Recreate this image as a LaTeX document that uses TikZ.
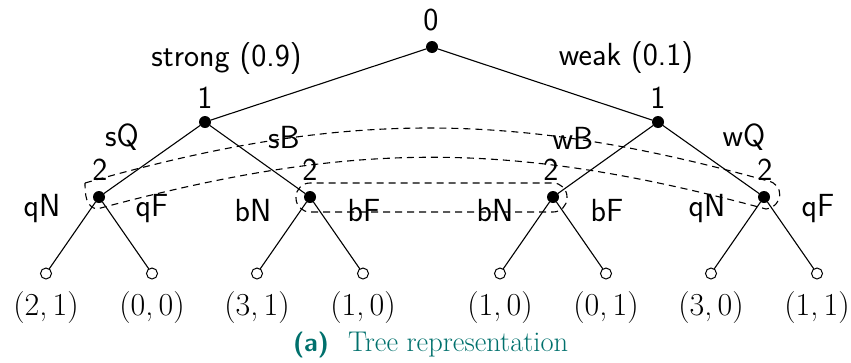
\documentclass[tikz,border=0pt]{standalone}
\usepackage{fontspec}
\definecolor{capteal}{RGB}{0,112,108}
\newcommand{\pay}[2]{(#1,\kern0.1667em#2)}
\begin{document}
\begin{tikzpicture}[x=1pt,y=-1pt,
  every node/.style={inner sep=0pt, outer sep=0pt},
  dec/.style={circle, fill=black, minimum size=12pt},
  leaf/.style={circle, draw=black, fill=white, line width=1pt, minimum size=11pt},
  edge/.style={line width=1.1pt},
  infoset/.style={line width=1.1pt, dash pattern=on 7pt off 5pt},
  lab/.style={anchor=base, font=\fontsize{32}{36}\selectfont\sffamily},
  payst/.style={anchor=base, font=\fontsize{32}{36}\selectfont},
  captext/.style={anchor=base west, text=capteal, font=\fontsize{28.5}{32}\selectfont},
]
\useasboundingbox (0,0) rectangle (851,362);
% information sets
\draw[infoset] (85,183) .. controls (340,110) and (513,110) .. (768,181)
  .. controls (784,184) and (784,206) .. (766,209)
  .. controls (510,140) and (353,140) .. (97,209)
  .. controls (86,207) and (85,195) .. (85,183);
\draw[infoset, rounded corners=14pt] (296,183) rectangle (567,212);
% decision nodes
\node[dec] (r) at (432,47) {};
\node[dec] (p1l) at (205,122) {};
\node[dec] (p1r) at (658,122) {};
\node[dec] (qa) at (99,197) {};
\node[dec] (ba) at (310,197) {};
\node[dec] (bb) at (553,197) {};
\node[dec] (qb) at (764,197) {};
% leaves
\node[leaf] (l1) at (46,273.5) {};
\node[leaf] (l2) at (152,273.5) {};
\node[leaf] (l3) at (257,273.5) {};
\node[leaf] (l4) at (363,273.5) {};
\node[leaf] (l5) at (500,273.5) {};
\node[leaf] (l6) at (606,273.5) {};
\node[leaf] (l7) at (711,273.5) {};
\node[leaf] (l8) at (817,273.5) {};
% edges
\draw[edge] (r) -- (p1l);
\draw[edge] (r) -- (p1r);
\draw[edge] (p1l) -- (qa);
\draw[edge] (p1l) -- (ba);
\draw[edge] (p1r) -- (bb);
\draw[edge] (p1r) -- (qb);
\draw[edge] (qa) -- (l1);
\draw[edge] (qa) -- (l2);
\draw[edge] (ba) -- (l3);
\draw[edge] (ba) -- (l4);
\draw[edge] (bb) -- (l5);
\draw[edge] (bb) -- (l6);
\draw[edge] (qb) -- (l7);
\draw[edge] (qb) -- (l8);
% player labels
\node[lab] (t0) at (431,30) {0};
\node[lab] (t1l) at (205,108) {1};
\node[lab] (t1r) at (658,108) {1};
\node[lab] (t2a) at (100,180) {2};
\node[lab] (t2b) at (310,180) {2};
\node[lab] (t2c) at (551,180) {2};
\node[lab] (t2d) at (765,180) {2};
% action labels
\node[lab] (ts) at (226.5,66) {strong (0.9)};
\node[lab] (tw) at (626,65.5) {weak (0.1)};
\node[lab] (tsq) at (122,146) {sQ};
\node[lab] (tsb) at (284,148) {sB};
\node[lab] (twb) at (573,149) {wB};
\node[lab] (twq) at (744,146) {wQ};
\node[lab] (tqn1) at (42,216.5) {qN};
\node[lab] (tqf1) at (152,216.5) {qF};
\node[lab] (tbn1) at (253,221) {bN};
\node[lab] (tbf1) at (364,221) {bF};
\node[lab] (tbn2) at (495,221) {bN};
\node[lab] (tbf2) at (607,221) {bF};
\node[lab] (tqn2) at (707,216.5) {qN};
\node[lab] (tqf2) at (818,216.5) {qF};
% payoffs
\node[payst] (u1) at (46,315) {\pay{2}{1}};
\node[payst] (u2) at (152,315) {\pay{0}{0}};
\node[payst] (u3) at (257,315) {\pay{3}{1}};
\node[payst] (u4) at (363,315) {\pay{1}{0}};
\node[payst] (u5) at (500,315) {\pay{1}{0}};
\node[payst] (u6) at (606,315) {\pay{0}{1}};
\node[payst] (u7) at (711,315) {\pay{3}{0}};
\node[payst] (u8) at (817,315) {\pay{1}{1}};
% caption
\node[captext, font=\fontsize{26}{30}\selectfont] (ca) at (293,351) {\sffamily\bfseries (a)};
\node[captext] (cb) at (348,351) {Tree representation};
\end{tikzpicture}
\end{document}
